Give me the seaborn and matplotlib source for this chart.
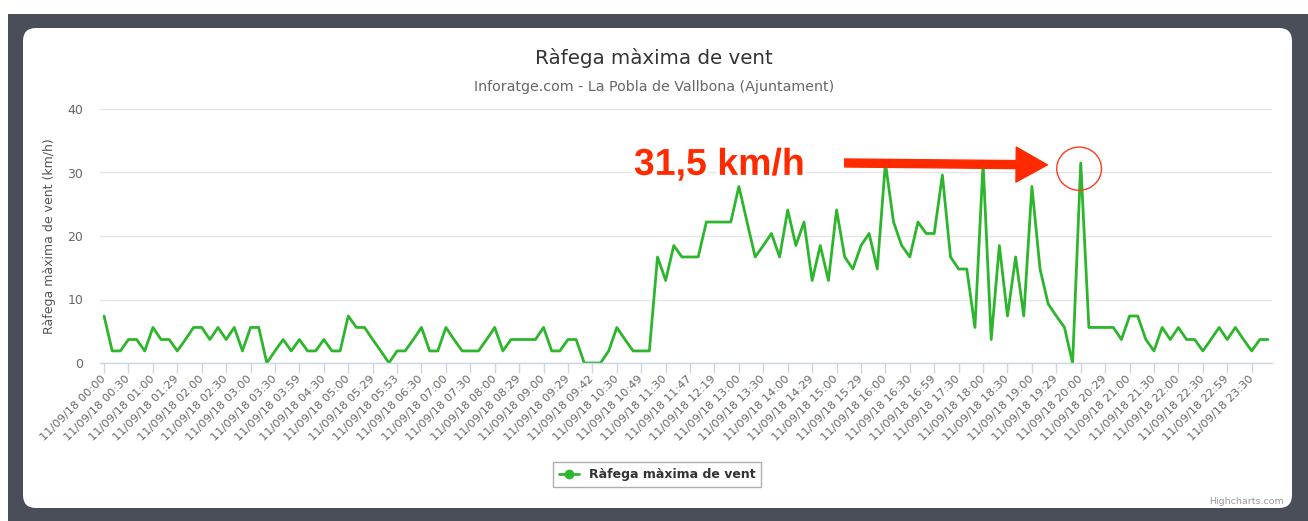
import seaborn as sns
import matplotlib.pyplot as plt
import matplotlib.patheffects as pe
from matplotlib.patches import FancyBboxPatch, Rectangle, Ellipse
from matplotlib.lines import Line2D
import pandas as pd

# Dades llegides del gràfic (km/h, una mostra cada ~10 minuts)
rafega = [
    7.4, 1.9, 1.9, 3.7, 3.7, 1.9, 5.6, 3.7, 3.7, 1.9, 3.7, 5.6, 5.6, 3.7, 5.6, 3.7,
    5.6, 1.9, 5.6, 5.6, 0, 1.9, 3.7, 1.9, 3.7, 1.9, 1.9, 3.7, 1.9, 1.9, 7.4, 5.6,
    5.6, 3.7, 1.9, 0, 1.9, 1.9, 3.7, 5.6, 1.9, 1.9, 5.6, 3.7, 1.9, 1.9, 1.9, 3.7,
    5.6, 1.9, 3.7, 3.7, 3.7, 3.7, 5.6, 1.9, 1.9, 3.7, 3.7, 0, 0, 0, 1.9, 5.6,
    3.7, 1.9, 1.9, 1.9, 16.7, 13.0, 18.5, 16.7, 16.7, 16.7, 22.2, 22.2, 22.2, 22.2, 27.8, 22.2,
    16.7, 18.5, 20.4, 16.7, 24.1, 18.5, 22.2, 13.0, 18.5, 13.0, 24.1, 16.7, 14.8, 18.5, 20.4, 14.8,
    31.5, 22.2, 18.5, 16.7, 22.2, 20.4, 20.4, 29.6, 16.7, 14.8, 14.8, 5.6, 31.5, 3.7, 18.5, 7.4,
    16.7, 7.4, 27.8, 14.8, 9.3, 7.4, 5.6, 0, 31.5, 5.6, 5.6, 5.6, 5.6, 3.7, 7.4, 7.4,
    3.7, 1.9, 5.6, 3.7, 5.6, 3.7, 3.7, 1.9, 3.7, 5.6, 3.7, 5.6, 3.7, 1.9, 3.7, 3.7,
]

# Etiquetes de l'eix X (una de cada tres mostres)
hores = [
    "00:00", "00:30", "01:00", "01:29", "02:00", "02:30", "03:00", "03:30",
    "03:59", "04:30", "05:00", "05:29", "05:53", "06:30", "07:00", "07:30",
    "08:00", "08:29", "09:00", "09:29", "09:42", "10:30", "10:49", "11:30",
    "11:47", "12:19", "13:00", "13:30", "14:00", "14:29", "15:00", "15:29",
    "16:00", "16:30", "16:59", "17:30", "18:00", "18:30", "19:00", "19:29",
    "20:00", "20:29", "21:00", "21:30", "22:00", "22:30", "22:59", "23:30",
]
etiquetes = ["11/09/18 " + h for h in hores]
pas_etiqueta = 3

df = pd.DataFrame({"idx": range(len(rafega)), "rafega": rafega})

verd = "#2db52d"
vermell = "#ff2a00"

sns.set_theme(style="white")
plt.rcParams["font.family"] = ["DejaVu Sans"]

fig = plt.figure(figsize=(13.08, 5.21), dpi=100)
fig.patch.set_facecolor("white")

# Marc fosc i panell blanc arrodonit
fig.patches.append(Rectangle((0.08, 0), 13.0, 5.07, transform=fig.dpi_scale_trans,
                             facecolor="#4a4e58", edgecolor="none", zorder=-3))
fig.patches.append(FancyBboxPatch((0.23, 0.13), 12.69, 4.80,
                                  boxstyle="round,pad=0,rounding_size=0.13",
                                  transform=fig.dpi_scale_trans,
                                  facecolor="white", edgecolor="none", zorder=-2))

ax = fig.add_axes([100 / 1308, 158 / 521, 1172 / 1308, 254 / 521])
ax.set_facecolor("none")

sns.lineplot(data=df, x="idx", y="rafega", ax=ax, color=verd, linewidth=2)

ax.set_xlim(-0.5, len(rafega) - 0.5)
ax.set_ylim(0, 40)
ax.set_yticks([0, 10, 20, 30, 40])
ax.set_xticks(range(0, len(rafega), pas_etiqueta))
ax.set_xticklabels(etiquetes, rotation=45, ha="right", va="center",
                   rotation_mode="anchor", fontsize=8.2, color="#666666")
ax.tick_params(axis="x", length=7, width=1, color="#ccd6eb", pad=3, bottom=True)
ax.tick_params(axis="y", length=0, pad=12, labelsize=9, labelcolor="#666666")
ax.grid(axis="y", color="#e6e6e6", linewidth=1)
ax.set_axisbelow(True)
for s in ["top", "right", "left"]:
    ax.spines[s].set_visible(False)
ax.spines["bottom"].set_color("#ccd6eb")
ax.spines["bottom"].set_linewidth(1)
ax.set_xlabel("")
ax.set_ylabel("Ràfega màxima de vent (km/h)", fontsize=9, color="#555555", labelpad=8)

# Títols
fig.text(0.5, 1 - 58 / 521, "Ràfega màxima de vent", ha="center", va="center",
         fontsize=14.3, color="#333333")
fig.text(0.5, 1 - 87 / 521, "Inforatge.com - La Pobla de Vallbona (Ajuntament)",
         ha="center", va="center", fontsize=10.3, color="#666666")

# Anotació del màxim
ax.text(75.6, 31.2, "31,5 km/h", ha="center", va="center", fontsize=27,
        fontweight="bold", family=["Liberation Sans", "DejaVu Sans"], color=vermell,
        path_effects=[pe.withSimplePatchShadow(offset=(1, -1.5), shadow_rgbFace="#aaaaaa", alpha=0.5),
                      pe.withStroke(linewidth=5, foreground="white")], zorder=5)
ax.annotate("", xy=(115.9, 31.2), xytext=(91.0, 31.5),
            arrowprops=dict(arrowstyle="simple,head_length=1.25,head_width=1.4,tail_width=0.32",
                            mutation_scale=18, color=vermell, shrinkA=0, shrinkB=0), zorder=5)
ax.add_patch(Ellipse((119.8, 30.6), 5.5, 6.8, fill=False, edgecolor="#ff3b1f", linewidth=1, zorder=5))

# Llegenda
handle = Line2D([], [], color=verd, linewidth=2, marker="o", markersize=6)
leg = fig.legend([handle], ["Ràfega màxima de vent"], loc="center",
                 bbox_to_anchor=(657 / 1308, 1 - 474.5 / 521), frameon=True,
                 fancybox=False, edgecolor="#999999", handlelength=1.6,
                 borderpad=0.45, prop={"weight": "bold", "size": 9})
for t in leg.get_texts():
    t.set_color("#333333")

fig.text(1284 / 1308, 1 - 502 / 521, "Highcharts.com", ha="right", va="center",
         fontsize=6.8, color="#999999")

fig.savefig("out.png", dpi=100)
